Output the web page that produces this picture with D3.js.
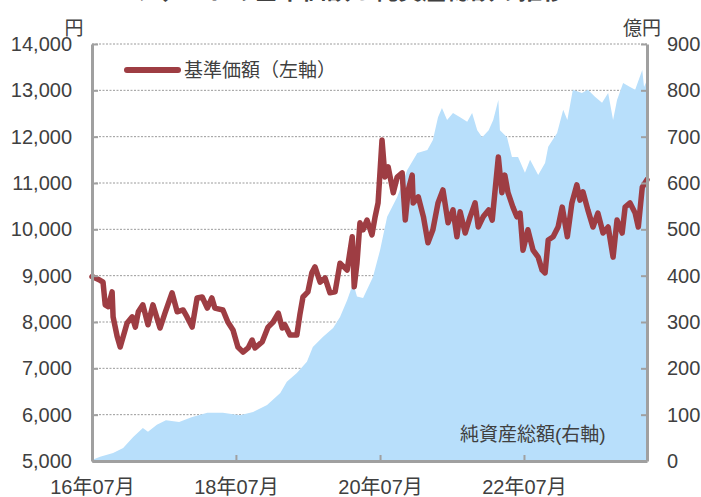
<!DOCTYPE html>
<html><head><meta charset="utf-8">
<script src="https://cdn.jsdelivr.net/npm/d3@7/dist/d3.min.js"></script>
<style>
html,body{margin:0;padding:0;background:#fff;}
svg{display:block;}
text{font-family:"Liberation Sans",Arial,"Noto Sans CJK JP",sans-serif;fill:#404040;}
</style></head>
<body>
<svg id="chart" width="701" height="497"></svg>
<script>
const titleText = "ファンドの基準価額と純資産総額の推移";
const navSeriesName = "基準価額（左軸）";
const assetSeriesName = "純資産総額(右軸)";
const leftUnit = "円";
const rightUnit = "億円";

const navDates = ["2016-07-01","2016-08-11","2016-08-26","2016-09-06","2016-09-21","2016-10-11","2016-10-16","2016-11-06","2016-11-21","2016-12-06","2016-12-26","2017-01-21","2017-02-06","2017-02-21","2017-03-16","2017-04-11","2017-05-06","2017-06-11","2017-07-06","2017-08-11","2017-09-06","2017-10-06","2017-10-26","2017-11-21","2017-12-16","2018-01-11","2018-02-06","2018-03-01","2018-03-16","2018-04-26","2018-05-21","2018-06-16","2018-07-11","2018-08-06","2018-09-01","2018-09-21","2018-10-06","2018-11-11","2018-12-11","2019-01-06","2019-02-01","2019-02-21","2019-03-06","2019-04-01","2019-05-06","2019-05-21","2019-06-06","2019-07-01","2019-07-21","2019-08-06","2019-09-01","2019-09-26","2019-10-21","2019-11-16",
"2019-12-11","2020-01-16","2020-02-11","2020-02-21","2020-03-06","2020-03-21","2020-04-06","2020-04-26","2020-05-21","2020-06-06","2020-06-21","2020-07-11","2020-07-26","2020-08-11","2020-09-06","2020-09-26","2020-10-21","2020-11-06","2020-11-21","2020-12-11","2020-12-16","2021-01-11","2021-02-06","2021-03-01","2021-03-26","2021-04-21","2021-05-16","2021-06-11","2021-07-06","2021-07-26","2021-08-11","2021-09-06","2021-10-01","2021-10-26","2021-11-11","2021-12-06","2022-01-03","2022-01-21","2022-02-06","2022-02-21","2022-03-11","2022-03-26","2022-04-11","2022-05-06","2022-05-26","2022-06-11","2022-06-26","2022-07-21","2022-08-16","2022-09-11","2022-10-01","2022-10-16","2022-11-01","2022-11-26","2022-12-21","2023-01-11","2023-02-06","2023-03-01","2023-03-26","2023-04-11","2023-04-26","2023-05-21","2023-06-16","2023-07-11","2023-08-06","2023-09-01","2023-09-26","2023-10-16","2023-11-11","2023-11-26","2023-12-21","2024-01-16","2024-02-01","2024-02-21","2024-03-16"];
const navValues = [8980,8900,8860,8370,8330,8650,8110,7680,7460,7680,7980,8110,7890,8220,8370,7940,8370,7870,8190,8630,8220,8260,8110,7890,8520,8540,8300,8520,8300,8260,8000,7830,7460,7350,7440,7610,7440,7570,7890,8000,8190,7870,7940,7720,7720,8150,8540,8650,9060,9190,8860,8950,8630,8650,
9270,9120,9840,8760,9270,10140,9990,10200,9880,10270,10570,11930,11130,11350,10790,11130,11220,10200,10850,11170,10570,10700,10270,9710,9990,10570,10850,10140,10420,9840,10380,9920,10270,10570,10050,10270,10420,10200,10910,11560,10790,11170,10790,10480,10270,10350,9550,9990,9550,9400,9120,9060,9770,9840,10050,10480,9840,10570,10960,10630,10810,10420,10050,10350,9920,10050,9400,10200,9920,10480,10570,10350,10050,10910,11070];

const assetDates = ["2016-07-01","2016-08-11","2016-10-16","2016-12-06","2017-01-26","2017-03-16","2017-04-11","2017-05-26","2017-07-11","2017-09-16","2017-11-21","2018-02-06","2018-04-26","2018-07-21","2018-09-26","2018-12-06","2019-02-11","2019-03-16","2019-05-06","2019-06-26","2019-07-26","2019-09-16","2019-11-06",
"2019-12-11","2020-01-16","2020-02-16","2020-03-06","2020-04-06","2020-05-26","2020-07-01","2020-08-06","2020-09-26","2020-11-16","2021-01-06","2021-02-26","2021-03-26","2021-04-21","2021-05-11","2021-06-06","2021-07-06","2021-08-11","2021-09-16","2021-10-11","2021-11-06","2021-12-01","2022-01-03","2022-01-26","2022-02-21","2022-03-01","2022-04-06","2022-05-01","2022-06-01","2022-07-06","2022-08-01","2022-09-11","2022-10-16","2022-11-01","2022-12-16","2023-01-16","2023-02-06","2023-03-06","2023-04-21","2023-05-21","2023-06-26","2023-08-01","2023-09-01","2023-09-26","2023-10-16","2023-11-16","2023-12-21","2024-01-16","2024-02-21","2024-03-01","2024-03-16"];
const assetValues = [2,9,17,28,52,71,63,78,88,84,95,104,104,99,106,121,147,171,190,214,246,268,287,
311,347,384,355,352,397,455,527,570,628,665,671,693,742,762,736,751,742,732,751,714,699,714,736,779,714,699,656,656,622,650,617,643,678,708,758,736,801,794,801,786,773,794,736,779,816,807,801,844,807,822];

const leftTicks = [5000,6000,7000,8000,9000,10000,11000,12000,13000,14000];
const rightTicks = [0,100,200,300,400,500,600,700,800,900];
const xTickDates = ["2016-07-01","2018-07-01","2020-07-01","2022-07-01"];
const xTickLabels = ["16年07月","18年07月","20年07月","22年07月"];
const xDomain = ["2016-07-01","2024-03-16"];

const parse = d3.timeParse("%Y-%m-%d");
const svg = d3.select("#chart");
const L = 92, R = 647, T = 44, B = 461;

const x = d3.scaleTime().domain(xDomain.map(parse)).range([L, R]);
const yL = d3.scaleLinear().domain([5000, 14000]).range([B, T]);
const yR = d3.scaleLinear().domain([0, 900]).range([B, T]);

const nav = navDates.map((d, i) => ({date: parse(d), value: navValues[i]}));
const assets = assetDates.map((d, i) => ({date: parse(d), value: assetValues[i]}));

// title (mostly cut off at top)
svg.append("text").attr("x", 350).attr("y", -1).attr("text-anchor", "middle")
  .style("font-size", "24px").style("font-weight", "bold")
  .style("font-family", "'Noto Sans CJK JP',sans-serif").text(titleText);

// gridlines
svg.append("g").selectAll("line").data(leftTicks.filter(d => d > 5000)).join("line")
  .attr("x1", L).attr("x2", R).attr("y1", d => yL(d)).attr("y2", d => yL(d))
  .attr("stroke", "#9a9a9a").attr("stroke-width", 1).attr("stroke-dasharray", "2,1.5");

// area
svg.append("path").datum(assets)
  .attr("fill", "#b8dffb")
  .attr("d", d3.area().x(d => x(d.date)).y0(B).y1(d => yR(d.value)));

// nav line
svg.append("path").datum(nav)
  .attr("fill", "none").attr("stroke", "#9e3d43").attr("stroke-width", 5.5)
  .attr("stroke-linejoin", "round").attr("stroke-linecap", "round")
  .attr("d", d3.line().x(d => x(d.date)).y(d => yL(d.value)));

function styleAxis(g) {
  g.select(".domain").attr("stroke", "#a0a0a0").attr("stroke-width", 3);
  g.selectAll(".tick line").attr("stroke", "#a0a0a0").attr("stroke-width", 2);
  g.selectAll("text").style("font-size", "20px").attr("fill", "#404040")
    .style("font-family", "'Liberation Sans',Arial,'Noto Sans CJK JP',sans-serif");
}

svg.append("g").attr("transform", `translate(${L},0)`)
  .call(d3.axisLeft(yL).tickValues(leftTicks).tickFormat(d3.format(",")).tickSizeInner(-6).tickSizeOuter(0).tickPadding(20))
  .call(styleAxis);

svg.append("g").attr("transform", `translate(${R},0)`)
  .call(d3.axisRight(yR).tickValues(rightTicks).tickFormat(d3.format("d")).tickSizeInner(-6).tickSizeOuter(0).tickPadding(20))
  .call(styleAxis);

svg.append("g").attr("transform", `translate(0,${B})`)
  .call(d3.axisBottom(x).tickValues(xTickDates.map(parse)).tickFormat((d, i) => xTickLabels[i]).tickSizeInner(-6).tickSizeOuter(0).tickPadding(19))
  .call(styleAxis)
  .call(g => g.selectAll(".tick").filter((d, i) => i === 0).select("line").remove());

// units
svg.append("text").attr("x", 74).attr("y", 35).attr("text-anchor", "middle")
  .style("font-size", "19px").text(leftUnit);
svg.append("text").attr("x", 642).attr("y", 35).attr("text-anchor", "middle")
  .style("font-size", "19px").text(rightUnit);

// legend
svg.append("line").attr("x1", 127).attr("x2", 178).attr("y1", 70).attr("y2", 70)
  .attr("stroke", "#9e3d43").attr("stroke-width", 6).attr("stroke-linecap", "round");
svg.append("text").attr("x", 184).attr("y", 77).style("font-size", "19px")
  .style("font-family", "'Noto Sans CJK JP',sans-serif").text(navSeriesName);

// asset label
svg.append("text").attr("x", 460).attr("y", 441).style("font-size", "19px")
  .text(assetSeriesName);
</script>
</body></html>
